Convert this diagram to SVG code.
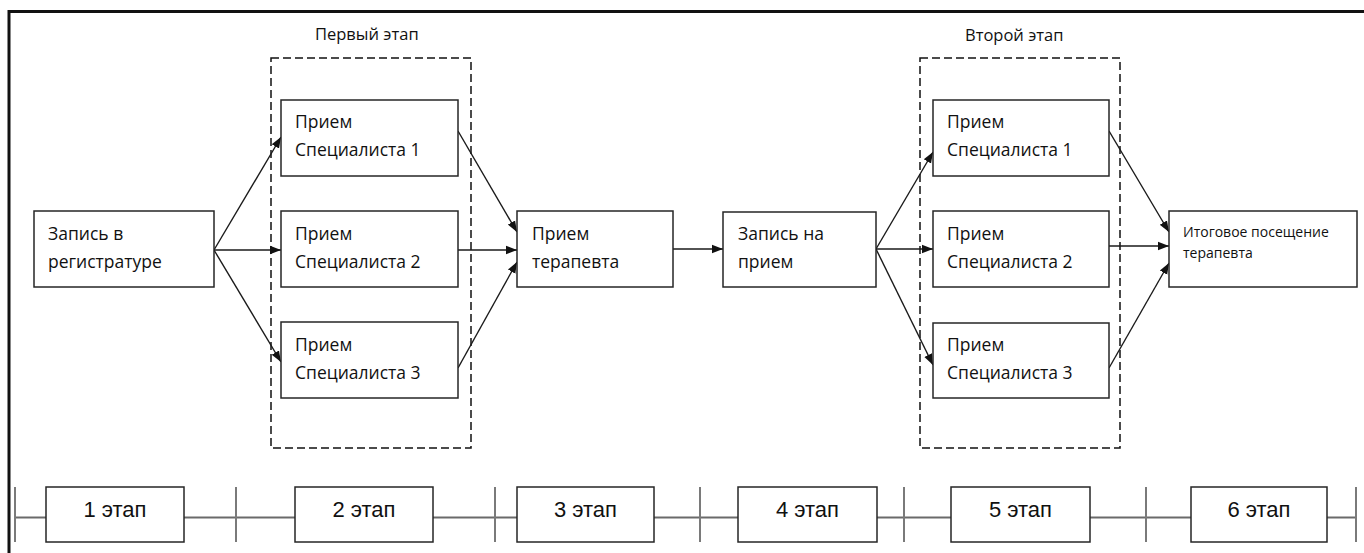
<svg xmlns="http://www.w3.org/2000/svg" width="1364" height="553" viewBox="0 0 1364 553">
<style>
.box{fill:#fff;stroke:#262626;stroke-width:1.5}
.grp{fill:none;stroke:#111;stroke-width:1.5;stroke-dasharray:8 4}
.t{font-family:"Open Sans","Liberation Sans",sans-serif;font-size:17.5px;fill:#111}
.ts{font-family:"Open Sans","Liberation Sans",sans-serif;font-size:14px;fill:#111}
.tl{font-family:"Liberation Sans","Open Sans",sans-serif;font-size:22px;fill:#111}
.c{fill:none;stroke:#1a1a1a;stroke-width:1.4}
.tick{stroke:#7a7a7a;stroke-width:2}
.axis{stroke:#6a6a6a;stroke-width:2}
</style>
<defs>
<marker id="ah" markerUnits="userSpaceOnUse" markerWidth="12" markerHeight="10" refX="11" refY="5" orient="auto">
<path d="M0,0.8 L11,5 L0,9.2 Z" fill="#111"/>
</marker>
</defs>
<rect width="1364" height="553" fill="#fff"/>
<g id="frame">
<path d="M9,553 V11.5 H1364" fill="none" stroke="#111" stroke-width="3"/>
</g>
<g id="stage1-group">
<rect class="grp" x="271" y="58" width="200" height="390"/>
<text class="t" x="315" y="40" style="font-size:16.5px">Первый этап</text>
</g>
<g id="stage2-group">
<rect class="grp" x="920" y="58" width="200" height="390"/>
<text class="t" x="965" y="41" style="font-size:16.5px">Второй этап</text>
</g>
<g id="connectors">
<line class="c" x1="214" y1="250" x2="281" y2="137" marker-end="url(#ah)"/>
<line class="c" x1="214" y1="250" x2="281" y2="250" marker-end="url(#ah)"/>
<line class="c" x1="214" y1="250" x2="281" y2="362" marker-end="url(#ah)"/>
<line class="c" x1="458" y1="131" x2="517" y2="232" marker-end="url(#ah)"/>
<line class="c" x1="458" y1="250" x2="517" y2="250" marker-end="url(#ah)"/>
<line class="c" x1="458" y1="368" x2="517" y2="262" marker-end="url(#ah)"/>
<line class="c" x1="673" y1="249" x2="723" y2="249" marker-end="url(#ah)"/>
<line class="c" x1="876" y1="249" x2="933" y2="152" marker-end="url(#ah)"/>
<line class="c" x1="876" y1="249" x2="933" y2="249" marker-end="url(#ah)"/>
<line class="c" x1="876" y1="249" x2="933" y2="365" marker-end="url(#ah)"/>
<line class="c" x1="1109" y1="131" x2="1169" y2="232" marker-end="url(#ah)"/>
<line class="c" x1="1109" y1="246" x2="1169" y2="246" marker-end="url(#ah)"/>
<line class="c" x1="1109" y1="368" x2="1169" y2="263" marker-end="url(#ah)"/>
</g>
<g id="reg">
<rect class="box" x="34" y="211" width="180" height="76"/>
<text class="t" x="48" y="240">Запись в</text>
<text class="t" x="48" y="268">регистратуре</text>
</g>
<g id="s1-1">
<rect class="box" x="281" y="100" width="177" height="76"/>
<text class="t" x="295" y="128">Прием</text>
<text class="t" x="295" y="156">Специалиста 1</text>
</g>
<g id="s1-2">
<rect class="box" x="281" y="211" width="177" height="76"/>
<text class="t" x="295" y="240">Прием</text>
<text class="t" x="295" y="268">Специалиста 2</text>
</g>
<g id="s1-3">
<rect class="box" x="281" y="322" width="177" height="76"/>
<text class="t" x="295" y="351">Прием</text>
<text class="t" x="295" y="379">Специалиста 3</text>
</g>
<g id="ther">
<rect class="box" x="517" y="211" width="156" height="76"/>
<text class="t" x="532" y="240">Прием</text>
<text class="t" x="532" y="268">терапевта</text>
</g>
<g id="appt">
<rect class="box" x="723" y="212" width="153" height="75"/>
<text class="t" x="738" y="240">Запись на</text>
<text class="t" x="738" y="268">прием</text>
</g>
<g id="s2-1">
<rect class="box" x="933" y="100" width="176" height="76"/>
<text class="t" x="947" y="128">Прием</text>
<text class="t" x="947" y="156">Специалиста 1</text>
</g>
<g id="s2-2">
<rect class="box" x="933" y="211" width="176" height="76"/>
<text class="t" x="947" y="240">Прием</text>
<text class="t" x="947" y="268">Специалиста 2</text>
</g>
<g id="s2-3">
<rect class="box" x="933" y="323" width="176" height="75"/>
<text class="t" x="947" y="351">Прием</text>
<text class="t" x="947" y="379">Специалиста 3</text>
</g>
<g id="final">
<rect class="box" x="1169" y="211" width="188" height="76"/>
<text class="ts" x="1183" y="237">Итоговое посещение</text>
<text class="ts" x="1183" y="258">терапевта</text>
</g>
<g id="timeline">
<line class="axis" x1="15" y1="517.5" x2="1356" y2="517.5"/>
<line class="tick" x1="15" y1="487" x2="15" y2="542"/>
<line class="tick" x1="236" y1="487" x2="236" y2="542"/>
<line class="tick" x1="495" y1="487" x2="495" y2="542"/>
<line class="tick" x1="700" y1="487" x2="700" y2="542"/>
<line class="tick" x1="904" y1="487" x2="904" y2="542"/>
<line class="tick" x1="1146" y1="487" x2="1146" y2="542"/>
<line class="tick" x1="1356" y1="487" x2="1356" y2="542"/>
</g>
<g id="st1"><rect class="box" x="46" y="487" width="138" height="55"/><text class="tl" x="115" y="517" text-anchor="middle">1 этап</text></g>
<g id="st2"><rect class="box" x="295" y="487" width="138" height="55"/><text class="tl" x="364" y="517" text-anchor="middle">2 этап</text></g>
<g id="st3"><rect class="box" x="517" y="487" width="137" height="55"/><text class="tl" x="585.5" y="517" text-anchor="middle">3 этап</text></g>
<g id="st4"><rect class="box" x="738" y="487" width="139" height="55"/><text class="tl" x="807.5" y="517" text-anchor="middle">4 этап</text></g>
<g id="st5"><rect class="box" x="951" y="487" width="139" height="55"/><text class="tl" x="1020.5" y="517" text-anchor="middle">5 этап</text></g>
<g id="st6"><rect class="box" x="1191" y="487" width="136" height="55"/><text class="tl" x="1259" y="517" text-anchor="middle">6 этап</text></g>
</svg>
